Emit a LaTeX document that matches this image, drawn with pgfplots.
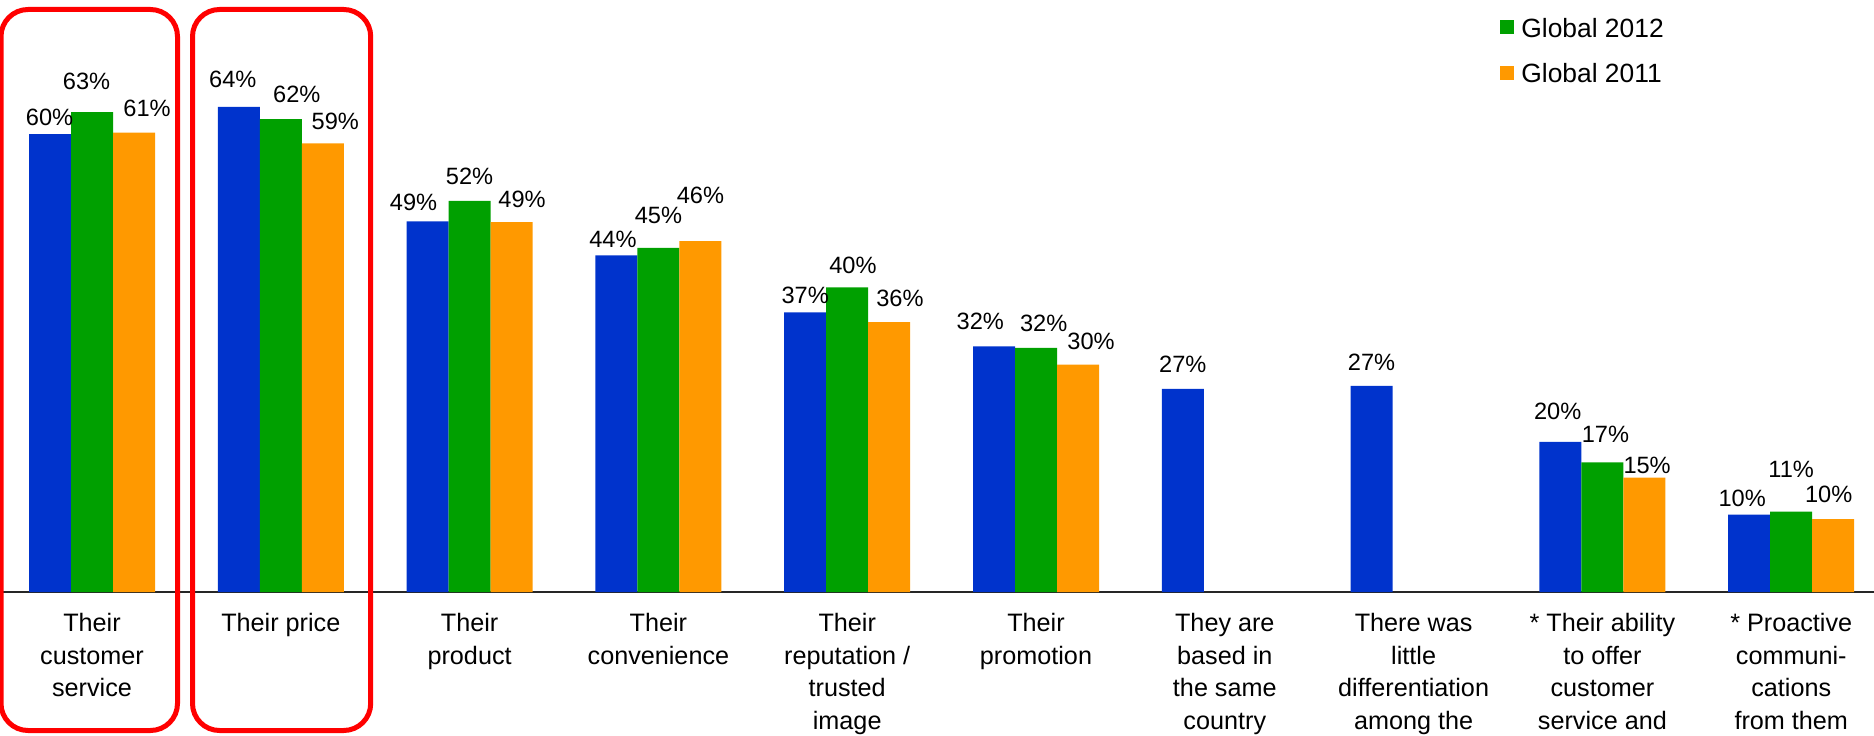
\documentclass[border=0pt]{standalone}
\usepackage{fontspec}
\setmainfont{Liberation Sans}
\usepackage{pgfplots}
\usepackage{pgfplotstable}
\pgfplotsset{compat=1.18}
\definecolor{cblue}{RGB}{0,51,204}
\definecolor{cgreen}{RGB}{0,160,0}
\definecolor{corange}{RGB}{255,153,0}

% x = category index, y = bar height, dx/dy = label offsets (pt), lab = printed value
\pgfplotstableread{
x y dx dy lab
0 60.4 -0.25 4.5 60
1 64.0 -3 9.5 64
2 48.9 -7 5.5 49
3 44.4 -1.75 4 44
4 36.9 0 4.5 37
5 32.4 -6.85 8.35 32
6 26.8 0 8 27
7 27.2 0 7.85 27
8 19.8 -1.35 11.35 20
9 10.2 -3.5 3.85 10
}\tblblue
\pgfplotstableread{
x y dx dy lab
0 63.3 -2.75 11.5 63
1 62.4 8 8.5 62
2 51.6 0 8 52
3 45.4 0 12 45
4 40.2 2.85 7 40
5 32.2 3.85 8.15 32
8 17.1 1.5 9.85 17
9 10.6 0 17 11
}\tblgreen
\pgfplotstableread{
x y dx dy lab
0 60.6 6.5 8 61
1 59.2 6.25 7 59
2 48.8 5.25 7.5 49
3 46.3 0 19 46
4 35.6 5.35 8 36
5 30.0 6.5 7.35 30
8 15.1 1.35 1.85 15
9 9.6 -2.25 8.5 10
}\tblorange

\pgfplotsset{
  lbl/.style={
    point meta=explicit symbolic,
    nodes near coords={\pgfplotspointmeta\%},
    visualization depends on={\thisrow{dx}\as\mydx},
    visualization depends on={\thisrow{dy}\as\mydy},
    every node near coord/.append style={anchor=base, inner sep=0pt,
      xshift=\mydx*1pt, yshift=\mydy*1pt, text=black,
      font=\fontsize{11.8}{14}\selectfont},
  },
}

\begin{document}
\begin{tikzpicture}
\useasboundingbox (0,0) rectangle (937pt,367.5pt);
\begin{scope}
\clip (0,0) rectangle (937pt,367.5pt);
\begin{axis}[
  at={(0pt,71.5pt)}, anchor=south west,
  x=94.4pt, y=3.79pt,
  xmin=-0.4873, xmax=9.4386, ymin=0, ymax=78.1,
  clip=false,
  ybar, bar width=21pt,
  axis y line=none,
  axis x line*=bottom,
  x axis line style={-, line width=0.8pt, black!85},
  major tick length=0pt,
  ytick=\empty,
  xtick={0,...,9},
  xticklabels={{Their\\customer\\service},{Their price},{Their\\product},{Their\\convenience},{Their\\reputation /\\trusted\\image},{Their\\promotion},{They are\\based in\\the same\\country},{There was\\little\\differentiation\\among the},{* Their ability\\to offer\\customer\\service and},{* Proactive\\communi-\\cations\\from them}},
  xticklabel style={align=center, anchor=north, inner sep=0pt, yshift=-10.5pt,
    font=\fontsize{12.6}{16.25}\selectfont},
  legend image code/.code={\fill[#1] (0pt,-2.55pt) rectangle (7pt,4.45pt);},
  legend style={at={(0.8004,0.97)}, anchor=north west, draw=none, fill=none,
    inner sep=0pt, row sep=11.6pt,
    font=\fontsize{13.2}{15}\selectfont,
    nodes={inner sep=0pt},
    /tikz/every odd column/.append style={column sep=3.5pt}},
  legend cell align=left,
]
\addplot[fill=cblue, draw=none, bar shift=-21pt, forget plot, lbl]
  table[x=x, y=y, meta=lab] {\tblblue};
\addplot[fill=cgreen, draw=none, bar shift=0pt, lbl]
  table[x=x, y=y, meta=lab] {\tblgreen};
\addlegendentry{Global 2012}
\addplot[fill=corange, draw=none, bar shift=21pt, lbl]
  table[x=x, y=y, meta=lab] {\tblorange};
\addlegendentry{Global 2011}
\end{axis}
\draw[red, line width=2.5pt, rounded corners=13.5pt] (0.5pt,362.75pt) rectangle (88.75pt,2.25pt);
\draw[red, line width=2.5pt, rounded corners=13.5pt] (96.25pt,362.75pt) rectangle (185.35pt,2.25pt);
\end{scope}
\end{tikzpicture}
\end{document}
